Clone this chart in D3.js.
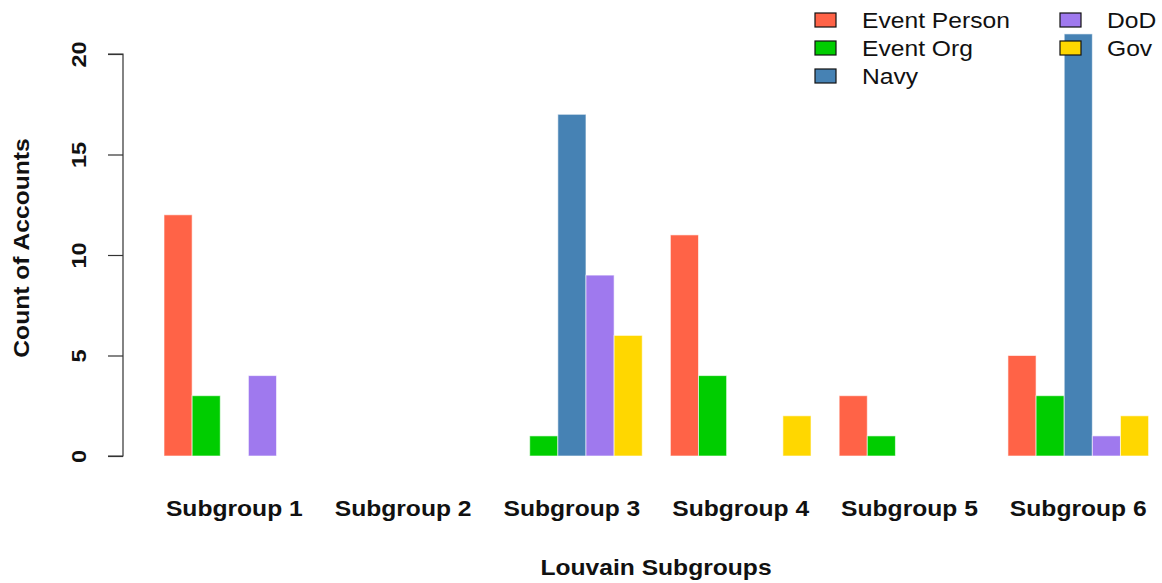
<!DOCTYPE html>
<html>
<head>
<meta charset="utf-8">
<script src="https://cdn.jsdelivr.net/npm/d3@7"></script>
<style>
  html, body { margin: 0; padding: 0; background: #fff; }
  svg { display: block; font-family: "Liberation Sans", Arial, Helvetica, sans-serif; }
</style>
</head>
<body>
<svg id="chart" width="1162" height="583"></svg>
<script>
const categories = ["Subgroup 1", "Subgroup 2", "Subgroup 3", "Subgroup 4", "Subgroup 5", "Subgroup 6"];
const seriesNames = ["Event Person", "Event Org", "Navy", "DoD", "Gov"];
const seriesColors = ["#FF6347", "#00CD00", "#4682B4", "#9F79EE", "#FFD700"];
const eventPerson = [12, 0, 0, 11, 3, 5];
const eventOrg    = [3, 0, 1, 4, 1, 3];
const navy        = [0, 0, 17, 0, 0, 21];
const dod         = [4, 0, 9, 0, 0, 1];
const gov         = [0, 0, 6, 2, 0, 2];
const yTicks = [0, 5, 10, 15, 20];
const xTitle = "Louvain Subgroups";
const yTitle = "Count of Accounts";

const seriesValues = [eventPerson, eventOrg, navy, dod, gov];
const table = categories.map((c, i) => ({
  cat: c,
  vals: seriesNames.map((s, j) => ({ series: s, value: seriesValues[j][i], color: seriesColors[j] }))
}));

const STRETCH = 1.12;
const svg = d3.select("#chart");

const x0 = d3.scaleBand().domain(categories).range([164, 1148.6]).paddingInner(1/6).paddingOuter(0);
const x1 = d3.scaleBand().domain(seriesNames).range([0, x0.bandwidth()]).padding(0);
const y = d3.scaleLinear().domain([0, 20]).range([456, 54]);

// bars
const groups = svg.append("g").selectAll("g").data(table).join("g")
  .attr("transform", d => `translate(${x0(d.cat)},0)`);
groups.selectAll("rect").data(d => d.vals).join("rect")
  .attr("x", d => x1(d.series))
  .attr("width", x1.bandwidth())
  .attr("y", d => y(d.value))
  .attr("height", d => y(0) - y(d.value))
  .attr("fill", d => d.color)
  .attr("stroke", d => d.value > 0 ? "#ffffff" : "none")
  .attr("stroke-opacity", 0.6)
  .attr("stroke-width", 1);

// y axis
const TICK = 15;
const yAxis = d3.axisLeft(y).tickValues(yTicks).tickSize(TICK).tickPadding(8).tickFormat(d3.format("d"));
const gy = svg.append("g").attr("transform", "translate(123,0)").call(yAxis);
gy.select(".domain").attr("d", `M-${TICK},${y(0)}H0V${y(20)}H-${TICK}`).attr("stroke", "#333").attr("stroke-width", 1.2);
gy.selectAll(".tick line").attr("stroke", "#333").attr("stroke-width", 1.2);
gy.selectAll(".tick text")
  .attr("font-size", 21).attr("font-weight", "bold").attr("fill", "#111")
  .attr("text-anchor", "middle")
  .attr("x", null)
  .attr("transform", `translate(-44,0) rotate(-90) scale(${STRETCH},1)`)
  .attr("y", 0).attr("dy", "0.35em");

// x group labels
svg.append("g").selectAll("text").data(categories).join("text")
  .attr("transform", d => `translate(${x0(d) + x0.bandwidth() / 2},516) scale(${STRETCH},1)`)
  .attr("text-anchor", "middle")
  .attr("font-size", 22).attr("font-weight", "bold").attr("fill", "#111")
  .text(d => d);

// axis titles
svg.append("text")
  .attr("transform", `translate(656,575) scale(${STRETCH},1)`)
  .attr("text-anchor", "middle")
  .attr("font-size", 22).attr("font-weight", "bold").attr("fill", "#111")
  .text(xTitle);
svg.append("text")
  .attr("transform", `translate(29,248) rotate(-90) scale(${STRETCH},1)`)
  .attr("text-anchor", "middle")
  .attr("font-size", 22).attr("font-weight", "bold").attr("fill", "#111")
  .text(yTitle);

// legend
const legendPos = [
  { col: 0, row: 0 }, { col: 0, row: 1 }, { col: 0, row: 2 },
  { col: 1, row: 0 }, { col: 1, row: 1 }
];
const colX = [815, 1060];
const rowY = [20, 48, 76];
const lg = svg.append("g").selectAll("g").data(seriesNames).join("g")
  .attr("transform", (d, i) => `translate(${colX[legendPos[i].col]},${rowY[legendPos[i].row]})`);
lg.append("rect")
  .attr("x", 0).attr("y", -7).attr("width", 21).attr("height", 14)
  .attr("fill", (d, i) => seriesColors[i]).attr("stroke", "#111").attr("stroke-width", 1.2);
lg.append("text")
  .attr("transform", `translate(47,0) scale(${STRETCH},1)`)
  .attr("dy", "0.36em")
  .attr("font-size", 22).attr("fill", "#111")
  .text(d => d);
</script>
</body>
</html>
